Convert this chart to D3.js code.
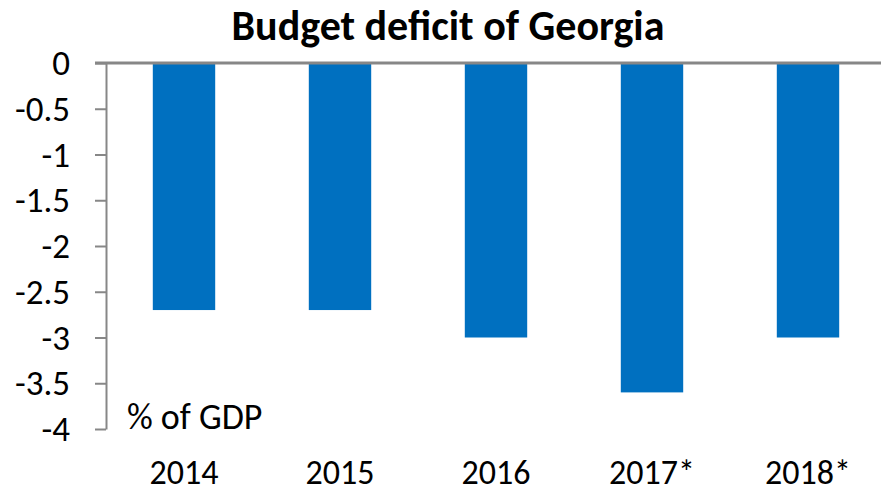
<!DOCTYPE html>
<html>
<head>
<meta charset="utf-8">
<script src="https://cdn.jsdelivr.net/npm/d3@7"></script>
<style>
  body { margin: 0; background: #fff; }
  svg text { font-family: Carlito, "Open Sans", "Noto Sans", sans-serif; fill: #000; }
</style>
</head>
<body>
<svg id="chart" width="881" height="492"></svg>
<script>
var years = ["2014", "2015", "2016", "2017*", "2018*"];
var deficit = [-2.7, -2.7, -3.0, -3.6, -3.0];
var yTicks = [0, -0.5, -1, -1.5, -2, -2.5, -3, -3.5, -4];

var svg = d3.select("#chart");
var axisColor = "#878787";

var x = d3.scaleBand()
    .domain(years)
    .range([106, 886])
    .paddingInner(0.6)
    .paddingOuter(0.3);

var y = d3.scaleLinear()
    .domain([0, -4])
    .range([63, 429]);

// title
svg.append("text")
    .attr("x", 448)
    .attr("y", 40)
    .attr("text-anchor", "middle")
    .style("font-size", "42px")
    .style("font-weight", "bold")
    .text("Budget deficit of Georgia");

// bars
svg.selectAll(".bar")
    .data(years)
    .enter().append("rect")
      .attr("class", "bar")
      .attr("x", d => x(d))
      .attr("width", x.bandwidth())
      .attr("y", y(0))
      .attr("height", (d, i) => y(deficit[i]) - y(0))
      .attr("fill", "#0070C0");

// y axis
var yAxis = svg.append("g")
    .attr("transform", "translate(106,0)")
    .call(d3.axisLeft(y).tickValues(yTicks).tickSize(11).tickSizeOuter(0).tickPadding(25)
      .tickFormat(d => String(d)));
yAxis.select(".domain").attr("stroke", axisColor).attr("stroke-width", 2);
yAxis.selectAll(".tick line").attr("stroke", axisColor).attr("stroke-width", 2);
yAxis.selectAll(".tick text")
    .style("font-size", "35px")
    .attr("dy", "0.33em");

// zero line (category axis sits at the top)
svg.append("line")
    .attr("x1", 95)
    .attr("x2", 881)
    .attr("y1", y(0))
    .attr("y2", y(0))
    .attr("stroke", axisColor)
    .attr("stroke-width", 3);

// category labels
svg.selectAll(".xlab")
    .data(years)
    .enter().append("text")
      .attr("class", "xlab")
      .attr("x", d => x(d) + x.bandwidth() / 2)
      .attr("y", 484)
      .attr("text-anchor", "middle")
      .style("font-size", "34px")
      .text(d => d);

// unit label
svg.append("text")
    .attr("x", 127)
    .attr("y", 429)
    .style("font-size", "36px")
    .text("% of GDP");
</script>
</body>
</html>
